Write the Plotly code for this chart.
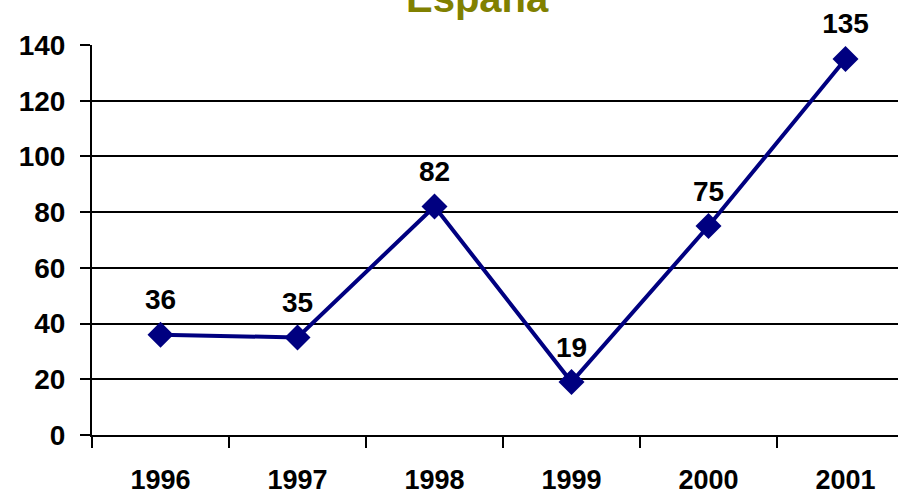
import plotly.graph_objects as go

years = ["1996", "1997", "1998", "1999", "2000", "2001"]
values = [36, 35, 82, 19, 75, 135]
title_text = "España"

FONT = "Liberation Sans, Arial, sans-serif"

fig = go.Figure()
fig.add_trace(go.Scatter(
    x=years, y=values,
    mode="lines+markers",
    line=dict(color="#000080", width=4),
    marker=dict(symbol="diamond", size=20, color="#000080"),
    cliponaxis=False,
))
# labels (invisible larger marker sets the label offset)
fig.add_trace(go.Scatter(
    x=years, y=values,
    mode="markers+text",
    text=[str(v) for v in values],
    textposition="top center",
    textfont=dict(family=FONT, size=28, color="black", weight="bold"),
    marker=dict(size=28, opacity=0),
    cliponaxis=False,
))

fig.update_layout(
    width=898, height=497,
    margin=dict(l=92, r=0, t=45, b=62),
    plot_bgcolor="white", paper_bgcolor="white",
    showlegend=False,
    font=dict(family=FONT, color="black"),
)
fig.update_xaxes(
    type="category", range=[-0.5, 5.383], automargin=False,
    tickson="boundaries", ticks="outside", ticklen=11, tickwidth=2, tickcolor="black",
    showline=True, linecolor="black", linewidth=2,
    showgrid=False,
    tickfont=dict(family=FONT, size=27, color="black", weight="bold"),
    ticklabelstandoff=20,
)
fig.update_yaxes(
    range=[0, 140], tickvals=[0, 20, 40, 60, 80, 100, 120, 140], automargin=False,
    ticks="outside", ticklen=10, tickwidth=2, tickcolor="black",
    showline=True, linecolor="black", linewidth=2,
    showgrid=True, gridcolor="black", gridwidth=1.5,
    zeroline=False,
    tickfont=dict(family=FONT, size=28, color="black", weight="bold"),
    ticklabelstandoff=9,
)
fig.add_annotation(
    text=title_text, xref="paper", yref="paper", x=(477 - 92) / 806, y=1,
    xanchor="center", yanchor="bottom", yshift=23, showarrow=False,
    font=dict(family=FONT, size=40, color="#808000", weight="bold"),
)

fig.write_html("out.html", config={"displayModeBar": False},
               post_script="document.body.style.margin='0';")
